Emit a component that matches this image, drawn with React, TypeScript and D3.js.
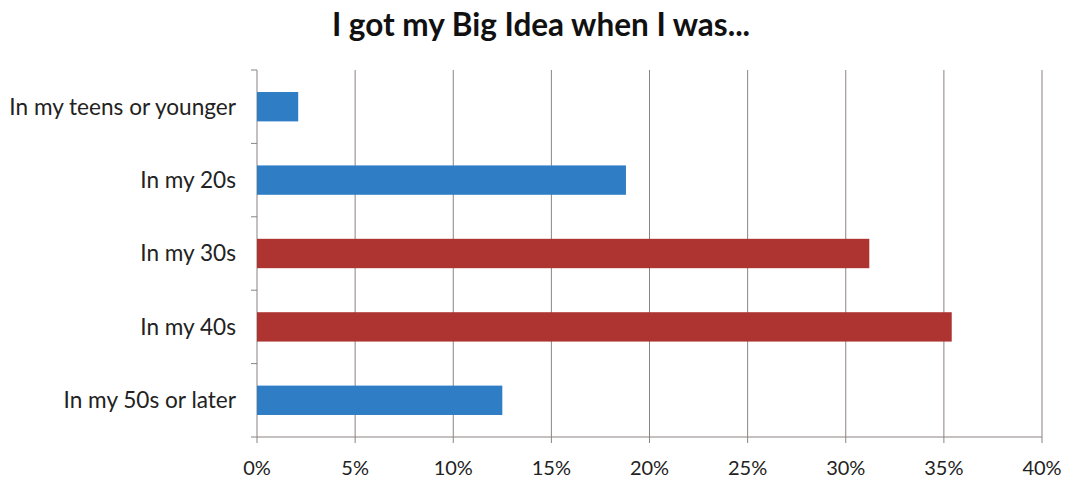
import React from "react";
import * as d3 from "d3";

const categories = ["In my teens or younger", "In my 20s", "In my 30s", "In my 40s", "In my 50s or later"];
const values = [2.1, 18.8, 31.2, 35.4, 12.5];
const highlight = [false, false, true, true, false];
const xTicks = [0, 5, 10, 15, 20, 25, 30, 35, 40];
const title = "I got my Big Idea when I was...";

export default function App() {
  const W = 1076, H = 480;
  const left = 257, right = 1042, top = 70, bottom = 437;
  const x = d3.scaleLinear().domain([0, 40]).range([left, right]);
  const y = d3.scaleBand().domain(categories).range([top, bottom]).paddingInner(0.6).paddingOuter(0.3);
  const step = (bottom - top) / categories.length;
  const font = "Lato, 'Open Sans', sans-serif";
  const grid = "#8c8282";
  return (
    <svg width={W} height={H} style={{ position: "absolute", left: 0, top: 0, background: "#fff" }} fontFamily={font}>
      <rect width={W} height={H} fill="#fff" />
      <text x={541} y={36} textAnchor="middle" fontSize={31.5} fontWeight={700} fill="#111">{title}</text>
      {xTicks.map((t) => (
        <g key={t}>
          <line x1={x(t)} x2={x(t)} y1={top} y2={bottom + 6} stroke={grid} strokeWidth={1} />
          <text x={x(t)} y={bottom + 38} textAnchor="middle" fontSize={20} fill="#222">{t}%</text>
        </g>
      ))}
      <line x1={left} x2={right} y1={bottom} y2={bottom} stroke={grid} strokeWidth={1} />
      {d3.range(categories.length + 1).map((i) => (
        <line key={i} x1={left - 6} x2={left} y1={top + i * step} y2={top + i * step} stroke={grid} strokeWidth={1} />
      ))}
      {categories.map((c, i) => (
        <g key={c}>
          <rect x={x(0)} y={y(c)!} width={x(values[i]) - x(0)} height={y.bandwidth()} fill={highlight[i] ? "#ad3431" : "#2f7dc4"} />
          <text x={left - 21} y={y(c)! + y.bandwidth() / 2} dy="0.35em" textAnchor="end" fontSize={22.6} fill="#222">{c}</text>
        </g>
      ))}
    </svg>
  );
}
